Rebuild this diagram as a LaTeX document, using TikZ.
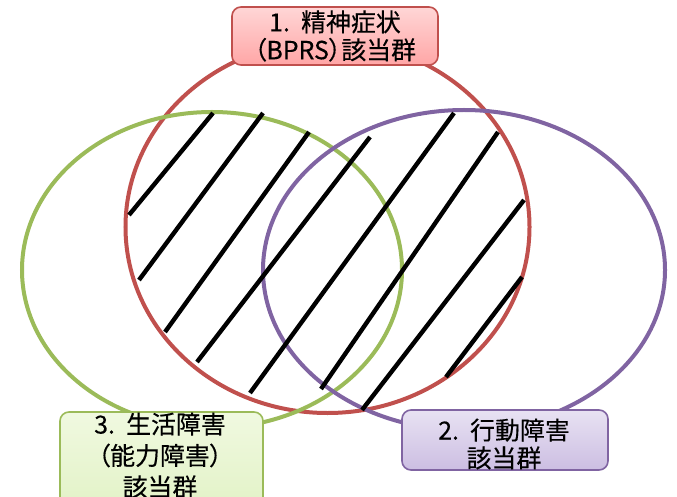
\documentclass[tikz,border=0pt]{standalone}
\usepackage{fontspec}
\setmainfont{Noto Sans CJK JP}[RawFeature=+palt]
\definecolor{cred}{HTML}{C0504D}
\definecolor{cgreen}{HTML}{9BBB59}
\definecolor{cpurple}{HTML}{8064A2}
\tikzset{
  ring/.style={line width=4bp},
  hatch/.style={line width=4.4bp, black},
  labelbox/.style={rounded corners=9bp, line width=1.6bp, inner sep=0pt},
  labeltext/.style={font=\fontsize{25}{28}\selectfont\addfontfeatures{FakeBold=0.3}, align=center, inner sep=0pt},
}
\begin{document}
\begin{tikzpicture}[x=1bp,y=-1bp]
\useasboundingbox (0,0) rectangle (677,497);
% ellipses
\draw[ring, cred] (327.5,227) ellipse [x radius=202bp, y radius=186bp];
\draw[ring, cgreen] (212,270) ellipse [x radius=190bp, y radius=158bp];
\draw[ring, cpurple] (464,270) ellipse [x radius=201bp, y radius=160bp];
% hatching
\coordinate (h1a) at (129,215);   \coordinate (h1b) at (213,113);
\coordinate (h2a) at (139,280);   \coordinate (h2b) at (263,113);
\coordinate (h3a) at (165,332);   \coordinate (h3b) at (309,132);
\coordinate (h4a) at (197,362);   \coordinate (h4b) at (370,137);
\coordinate (h5a) at (250,393);   \coordinate (h5b) at (454,113);
\coordinate (h6a) at (321,389);   \coordinate (h6b) at (498,132);
\coordinate (h7a) at (362,410);   \coordinate (h7b) at (524,200);
\coordinate (h8a) at (446,377);   \coordinate (h8b) at (522,277);
\foreach \i in {1,...,8} \draw[hatch] (h\i a) -- (h\i b);
% label boxes
\node[labelbox, draw=cred, top color={rgb,255:red,255;green,214;blue,214}, bottom color={rgb,255:red,255;green,166;blue,166},
      minimum width=206bp, minimum height=58bp] (bprs) at (335,36) {};
\node[labeltext] (bprst) at (335,36) {1.\hspace{0.45em}精神症状\\（BPRS）該当群};
\node[labelbox, draw=cpurple, top color={rgb,255:red,232;green,226;blue,243}, bottom color={rgb,255:red,204;green,190;blue,226},
      minimum width=206bp, minimum height=60bp] (beh) at (505,440) {};
\node[labeltext] (beht) at (504,444) {2.\hspace{0.45em}行動障害\\該当群};
\node[labelbox, draw=cgreen, top color={rgb,255:red,240;green,249;blue,224}, bottom color={rgb,255:red,226;green,242;blue,198},
      minimum width=203bp, minimum height=100bp] (life) at (161.5,462) {};
\node[labeltext, font=\fontsize{25}{31.5}\selectfont\addfontfeatures{FakeBold=0.3}] (lifet) at (160,455.5) {3.\hspace{0.45em}生活障害\\（能力障害）\\該当群};
\end{tikzpicture}
\end{document}
